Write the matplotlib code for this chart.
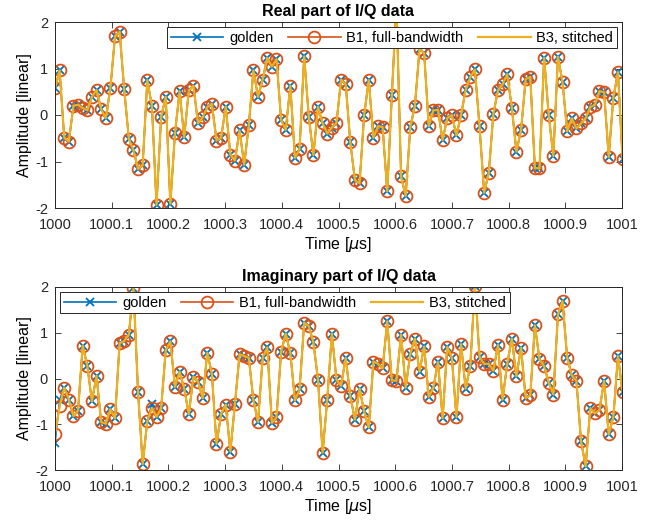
import numpy as np
import matplotlib
matplotlib.use("Agg")
import matplotlib.pyplot as plt

plt.rcParams['font.family'] = ['Liberation Sans', 'DejaVu Sans']
plt.rcParams['mathtext.fontset'] = 'dejavusans'
plt.rcParams['axes.unicode_minus'] = False

# sample rate 122.88 MHz, one microsecond window (+1 sample past the edge)
fs_mhz = 122.88
n_samples = 124
t_us = 1000 + np.arange(n_samples) / fs_mhz

real_golden = [
    0.57, 0.96, -0.49, -0.57, 0.20, 0.22, 0.15, 0.10, 0.39, 0.54,
    0.13, -0.07, 0.57, 1.69, 1.79, 0.55, -0.51, -0.76, -1.16, -1.08,
    0.75, 0.20, -1.93, -0.04, 0.39, -1.91, -0.39, 0.51, -0.48, 0.53,
    0.63, -0.18, -0.05, 0.17, 0.24, -0.55, -0.49, 0.18, -0.85, -0.98,
    -0.33, -1.07, -0.22, 0.96, 0.39, 0.76, 1.23, 1.04, 1.20, -0.10,
    -0.32, 0.63, -0.92, -0.74, 1.26, -0.04, -0.86, 0.17, -0.18, -0.40,
    -0.27, -0.17, 0.76, 0.66, -0.59, -1.40, -1.47, 0.00, 0.75, -0.49,
    -0.24, -0.26, -1.64, 0.42, 2.40, -1.32, -1.74, -0.26, 0.20, 1.42,
    1.33, -0.24, 0.10, 0.11, -0.54, -0.07, 0.00, -0.44, 0.00, 0.54,
    0.81, 0.98, -0.24, -1.67, -1.25, 0.02, 0.53, 0.66, 0.88, 0.16,
    -0.79, -0.33, 0.77, 0.82, -1.14, -1.15, 1.23, 0.00, -0.88, 1.25,
    0.70, -0.35, -0.07, -0.29, -0.18, -0.07, 0.17, 0.22, 0.51, 0.49,
    -0.90, 0.37, 0.92, -0.95,
]

imag_golden = [
    -1.42, -0.47, -0.20, -0.46, -0.82, -0.70, 0.72, 0.28, -0.50, 0.06,
    -0.95, -0.99, -0.67, -0.87, 0.77, 0.82, 0.96, 1.98, -0.30, -1.87,
    -0.93, -0.56, -0.84, -0.65, 0.62, 0.81, -0.18, 0.15, -0.22, -0.78,
    0.04, -0.07, -0.43, 0.56, 0.10, -1.43, -0.78, -0.57, -1.60, -0.55,
    0.53, 0.49, 0.45, -0.48, -0.95, 0.45, 0.68, -0.97, -0.85, 0.58,
    0.98, 0.56, -0.48, -0.24, 1.22, 1.14, 0.79, -0.03, -1.62, -0.46,
    0.98, -0.03, -0.16, 0.45, -0.39, -0.90, -0.22, -0.72, -1.07, 0.37,
    0.32, 0.22, 1.25, -0.04, -0.05, 0.96, -0.20, 0.54, 0.87, 0.15,
    0.70, -0.40, -0.20, 0.36, -0.87, 0.69, 0.45, -0.84, 0.75, -0.22,
    0.27, 2.03, 0.47, 0.32, 0.32, 0.17, 0.73, -0.46, 0.32, 0.87,
    0.05, 0.67, -0.43, -0.37, 1.16, 0.42, 0.27, -0.09, -0.35, 1.40,
    1.69, 0.45, 0.07, -0.05, -1.37, -1.92, -0.65, -0.76, -0.69, -0.05,
    -1.22, -0.85, 0.49, -0.30,
]

# B1 / B3 match golden except a few samples where they drift
real_b1 = list(real_golden)
imag_b1 = list(imag_golden)
imag_b1[0] = -1.22
imag_b1[1] = -0.61
imag_b1[21] = -0.64
real_b3 = list(real_b1)
imag_b3 = list(imag_b1)

xtick_vals = [1000, 1000.1, 1000.2, 1000.3, 1000.4, 1000.5, 1000.6, 1000.7, 1000.8, 1000.9, 1001]
xtick_labels = ['1000', '1000.1', '1000.2', '1000.3', '1000.4', '1000.5',
                '1000.6', '1000.7', '1000.8', '1000.9', '1001']

c_blue = '#0072BD'
c_orange = '#D95319'
c_yellow = '#EDB120'
c_axis = '#262626'

fig = plt.figure(figsize=(6.62, 5.2), dpi=100)
ax1 = fig.add_axes([55 / 662, 1 - 208 / 520, 567 / 662, 186 / 520])
ax2 = fig.add_axes([55 / 662, 1 - 470 / 520, 567 / 662, 183 / 520])


def draw(ax, golden, b1, b3, title, loc):
    ax.plot(t_us, golden, color=c_blue, lw=1.2, marker='x', ms=6, mew=1.3, label='golden')
    ax.plot(t_us, b1, color=c_orange, lw=1.2, marker='o', ms=8.5, mew=1.3,
            mfc='none', label='B1, full-bandwidth')
    ax.plot(t_us, b3, color=c_yellow, lw=1.6, label='B3, stitched')
    ax.set_xlim(1000, 1001)
    ax.set_ylim(-2, 2)
    ax.set_xticks(xtick_vals)
    ax.set_xticklabels(xtick_labels)
    ax.set_yticks([-2, -1, 0, 1, 2])
    ax.tick_params(direction='in', top=True, right=True, labelsize=10.5,
                   colors=c_axis, length=4, width=0.6)
    ax.tick_params(axis='x', pad=7)
    ax.tick_params(axis='y', pad=5)
    for s in ax.spines.values():
        s.set_color(c_axis)
        s.set_linewidth(0.7)
    ax.set_title(title, fontsize=11.5, fontweight='bold', pad=4)
    ax.set_xlabel('Time [$\\mu$s]', fontsize=11.5, labelpad=2)
    ax.set_ylabel('Amplitude [linear]', fontsize=11.5, labelpad=2)
    leg = ax.legend(loc=loc, ncol=3, fontsize=10.5, handlelength=3.6,
                    columnspacing=1.0, handletextpad=0.4, borderpad=0.25,
                    borderaxespad=0.35, fancybox=False, framealpha=1,
                    edgecolor=c_axis)
    leg.get_frame().set_linewidth(0.7)


draw(ax1, real_golden, real_b1, real_b3, 'Real part of I/Q data', 'upper right')
draw(ax2, imag_golden, imag_b1, imag_b3, 'Imaginary part of I/Q data', 'upper left')

fig.savefig('out.png', dpi=100)
